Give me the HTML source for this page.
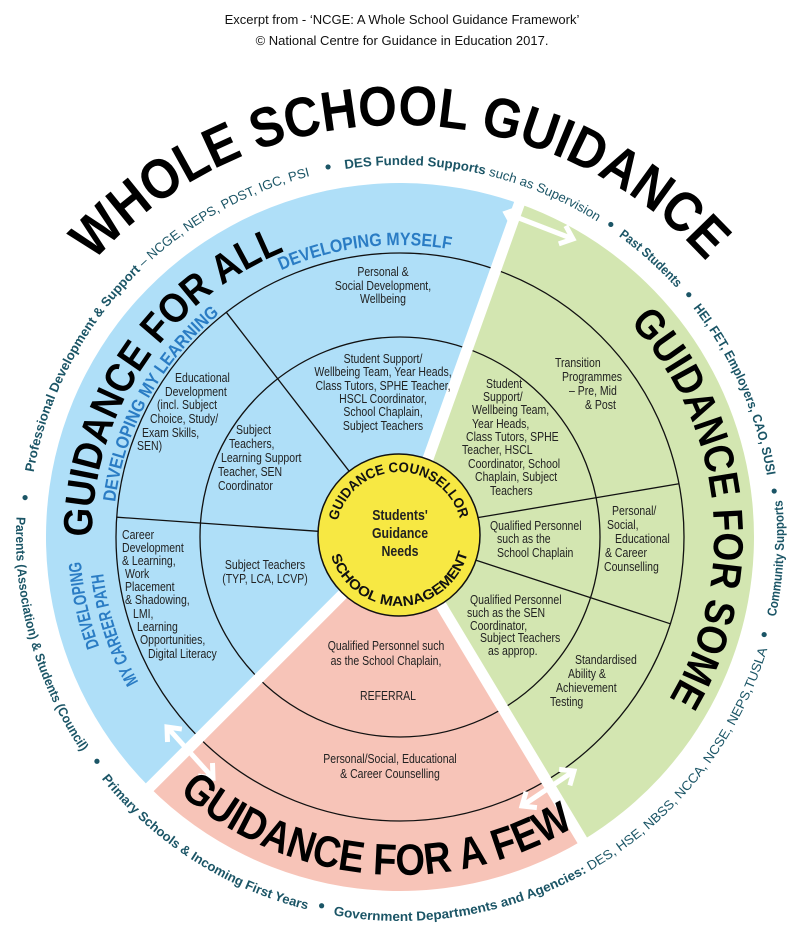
<!DOCTYPE html>
<html><head><meta charset="utf-8">
<style>
html,body{margin:0;padding:0;background:#fff;}
svg{display:block;}
.hd{font-family:"Liberation Sans",sans-serif;font-size:13px;fill:#111;}
</style></head>
<body>
<svg id="s" width="804" height="932" viewBox="0 0 804 932" xmlns="http://www.w3.org/2000/svg">
<text class="hd" x="402" y="24" text-anchor="middle">Excerpt from - ‘NCGE: A Whole School Guidance Framework’</text>
<text class="hd" x="402" y="45" text-anchor="middle">© National Centre for Guidance in Education 2017.</text>
<defs id="d"></defs>
<g id="g"></g>
</svg>
<script>
const NS="http://www.w3.org/2000/svg";
const g=document.getElementById('g'), defs=document.getElementById('d');
const C=[400,537], Y=[399,535];
function P(r,a,c){c=c||C;a*=Math.PI/180;return [c[0]+r*Math.cos(a),c[1]+r*Math.sin(a)];}
function f(p){return p[0].toFixed(2)+" "+p[1].toFixed(2);}
function el(tag,attrs,parent,txt){const e=document.createElementNS(NS,tag);for(const k in attrs)e.setAttribute(k,attrs[k]);(parent||g).appendChild(e);if(txt!==undefined)e.textContent=txt;return e;}
function arcD(r,a1,a2,c){const p1=P(r,a1,c),p2=P(r,a2,c);const sw=a2>a1?1:0;const lg=Math.abs(a2-a1)>180?1:0;return "M"+f(p1)+" A"+r+" "+r+" 0 "+lg+" "+sw+" "+f(p2);}
function sector(a1,a2,R,fill){el('path',{d:"M"+f(C)+" L"+f(P(R,a1))+" A"+R+" "+R+" 0 "+(a2-a1>180?1:0)+" 1 "+f(P(R,a2))+" Z",fill:fill});}
let pid=0;
function ctext(r,a1,a2,parts,style,c,shrink){
  const id="p"+(pid++);
  el('path',{id:id,d:arcD(r,a1,a2,c),fill:"none"},defs);
  const len=r*Math.abs(a2-a1)*Math.PI/180*(shrink||1);
  const t=el('text',Object.assign({textLength:len.toFixed(1),lengthAdjust:style.adj||"spacingAndGlyphs"},style.a));
  const tp=el('textPath',{href:"#"+id},t);
  tp.setAttributeNS("http://www.w3.org/1999/xlink","xlink:href","#"+id);
  parts.forEach(pp=>{el('tspan',pp[1]?{"font-weight":"bold"}:{"font-weight":"normal"},tp,pp[0]);});
}
// sectors
sector(135,289.7,354,"#afdff8");
sector(-70.3,59,354,"#d3e6b1");
sector(59,135,354,"#f7c4b8");
// circles
el('circle',{cx:C[0],cy:C[1],r:200,fill:"none",stroke:"#111","stroke-width":1.3});
el('circle',{cx:C[0],cy:C[1],r:284,fill:"none",stroke:"#111","stroke-width":1.3});
function ln(p1,p2){el('line',{x1:p1[0],y1:p1[1],x2:p2[0],y2:p2[1],stroke:"#111","stroke-width":1.3});}
ln(P(80,-127.7),P(284,-127.7));
ln(P(80,184),P(284,184));
ln(P(80,-14),P(284,-10.8));
ln(P(80,17),P(284,17.8));
// white gaps
[135,-70.3,59].forEach(a=>{const p=P(372,a);el('line',{x1:C[0],y1:C[1],x2:p[0],y2:p[1],stroke:"#fff","stroke-width":11});});
// arrows
function arrow(x1,y1,x2,y2){
  const dx=x2-x1,dy=y2-y1,L=Math.hypot(dx,dy),ux=dx/L,uy=dy/L;
  el('line',{x1:x1,y1:y1,x2:x2,y2:y2,stroke:"#fff","stroke-width":5});
  [[x2,y2,1],[x1,y1,-1]].forEach(q=>{const s=q[2];const bx=-ux*s,by=-uy*s;const h=15,an=0.7;
    const r1=[q[0]+h*(bx*Math.cos(an)-by*Math.sin(an)),q[1]+h*(bx*Math.sin(an)+by*Math.cos(an))];
    const r2=[q[0]+h*(bx*Math.cos(-an)-by*Math.sin(-an)),q[1]+h*(bx*Math.sin(-an)+by*Math.cos(-an))];
    el('polyline',{points:f(r1)+" "+q[0]+" "+q[1]+" "+f(r2),fill:"none",stroke:"#fff","stroke-width":5,"stroke-linejoin":"miter"});});
}
arrow(506,213,573,239);
arrow(167,727,213,778);
arrow(522,806,574,771);
// yellow circle
el('circle',{cx:Y[0],cy:Y[1],r:81,fill:"#f7e843",stroke:"#111","stroke-width":1.5});
// outer ring text
const teal={a:{"font-family":"Liberation Sans,sans-serif","font-size":"13",fill:"#1b5566"},adj:"spacingAndGlyphs"};
ctext(372,-170,-104,[["Professional Development & Support",1],[" – NCGE, NEPS, PDST, IGC, PSI",0]],teal);
ctext(372,-98.5,-58,[["DES Funded Supports",1],[" such as Supervision",0]],teal);
ctext(372,-54,-42,[["Past Students",1]],teal);
ctext(372,-38,-9.5,[["HEI, FET, Employers, CAO, SUSI",1]],teal);
ctext(384,12,-5.5,[["Community Supports",1]],teal);
ctext(384,100,17,[["Government Departments and Agencies:",1],[" DES, HSE, NBSS, NCCA, NCSE, NEPS,TUSLA",0]],teal);
ctext(384,141,104,[["Primary Schools & Incoming First Years",1]],teal);
ctext(384,183,146,[["Parents (Association) & Students (Council)",1]],teal);
[-101,-56,-40,-7,15,102,143.5,186].forEach(a=>{const p=P(377,a);el('circle',{cx:p[0],cy:p[1],r:2.6,fill:"#1b5566"});});
// big titles
const big=(fs)=>({a:{"font-family":"Liberation Sans,sans-serif","font-size":fs,fill:"#000"},adj:"spacingAndGlyphs"});
ctext(412,-138,-42,[["WHOLE SCHOOL GUIDANCE",1]],big(56));
ctext(308,-180,-112,[["GUIDANCE FOR ALL",1]],big(41));
ctext(314,-43,31,[["GUIDANCE FOR SOME",1]],big(42));
ctext(338,130.8,59,[["GUIDANCE FOR A FEW",1]],big(44));
const blu={a:{"font-family":"Liberation Sans,sans-serif","font-size":"18",fill:"#2a7cc4"},adj:"spacingAndGlyphs"};
ctext(292,-114,-80,[["DEVELOPING MYSELF",1]],blu);
ctext(287,187,231,[["DEVELOPING MY LEARNING",1]],blu);
ctext(320,160,175.6,[["DEVELOPING",1]],blu);
ctext(299,151,173,[["MY CAREER PATH",1]],blu);
// yellow circle curved
const yk={a:{"font-family":"Liberation Sans,sans-serif","font-size":"14",fill:"#111"},adj:"spacingAndGlyphs"};
ctext(63,-167,-15,[["GUIDANCE COUNSELLOR",1]],yk,Y);
ctext(71,163,15,[["SCHOOL MANAGEMENT",1]],yk,Y);
// plain text helper
function T(x,y,s,anc,opt){opt=opt||{};const sx=opt.sx||0.84;
  el('text',{x:0,y:0,transform:"translate("+x+","+y+") scale("+sx+",1)","text-anchor":anc||"start","font-family":"Liberation Sans,sans-serif","font-size":opt.fs||12.5,"font-weight":opt.b?"bold":"normal",fill:"#222"},g,s);}
function block(x,ys,lines,anc){lines.forEach((l,i)=>T(Array.isArray(x)?x[i]:x,ys[i],l,anc));}
block(383,[276,290,303],["Personal &","Social Development,","Wellbeing"],"middle");
block(383,[363,376,390,403,416,430],["Student Support/","Wellbeing Team, Year Heads,","Class Tutors, SPHE Teacher,","HSCL Coordinator,","School Chaplain,","Subject Teachers"],"middle");
block([175,165,157,150,142,137],[382,396,409,423,437,450],["Educational","Development","(incl. Subject","Choice, Study/","Exam Skills,","SEN)"]);
block([236,229,221,218,218],[434,448,462,476,490],["Subject","Teachers,","Learning Support","Teacher, SEN","Coordinator"]);
block([122,122,122,125,125,125,133,137,140,148],[539,552,565,578,591,604,618,631,644,658],["Career","Development","& Learning,","Work","Placement","& Shadowing,","LMI,","Learning","Opportunities,","Digital Literacy"]);
block(265,[569,583],["Subject Teachers","(TYP, LCA, LCVP)"],"middle");
block([555,562,569,585],[367,381,395,409],["Transition","Programmes","– Pre, Mid","& Post"]);
block([486,483,472,472,466,462,468,475,490],[388,401,414,428,441,454,468,481,495],["Student","Support/","Wellbeing Team,","Year Heads,","Class Tutors, SPHE","Teacher, HSCL","Coordinator, School","Chaplain, Subject","Teachers"]);
block([490,497,497],[530,543,557],["Qualified Personnel","such as the","School Chaplain"]);
block([612,607,615,605,604],[515,529,543,557,571],["Personal/","Social,","Educational","& Career","Counselling"]);
block([470,467,470,480,488],[604,617,630,642,655],["Qualified Personnel","such as the SEN","Coordinator,","Subject Teachers","as approp."]);
block([575,568,556,550],[664,678,692,706],["Standardised","Ability &","Achievement","Testing"]);
block(386,[650,665],["Qualified Personnel such","as the School Chaplain,"],"middle");
T(388,700,"REFERRAL","middle");
block(390,[763,778],["Personal/Social, Educational","& Career Counselling"],"middle");
T(400,520,"Students'","middle",{b:1,fs:14.5,sx:0.85});
T(400,538,"Guidance","middle",{b:1,fs:14.5,sx:0.85});
T(400,556,"Needs","middle",{b:1,fs:14.5,sx:0.85});
</script>
</body></html>
